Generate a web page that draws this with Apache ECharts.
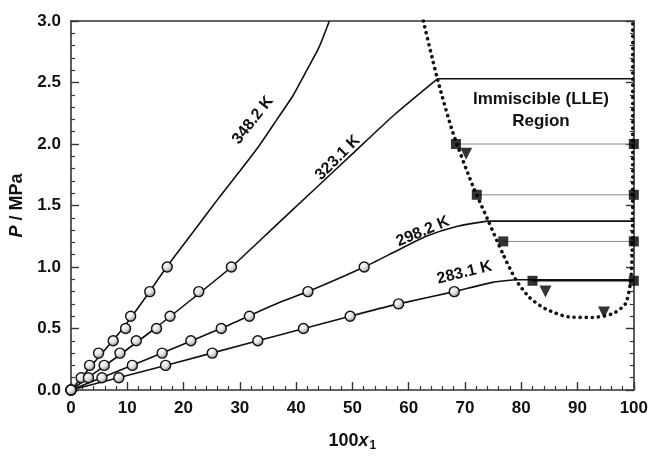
<!DOCTYPE html>
<html>
<head>
<meta charset="utf-8">
<title>P - 100x1</title>
<script src="https://cdn.jsdelivr.net/npm/echarts@6/dist/echarts.min.js"></script>
<style>
	html, body { margin: 0; background: #fff; }
	#main { width: 651px; height: 457px; }
</style>
</head>
<body>
<div id="main"></div>
<script>
// measured points (circles), 100x1 vs P/MPa
var x348 = [0, 1.8, 3.3, 4.9, 7.5, 9.7, 10.6, 14.0, 17.1];
var p348 = [0, 0.1, 0.2, 0.3, 0.4, 0.5, 0.6, 0.8, 1.0];
var x323 = [0, 3.1, 5.9, 8.7, 11.6, 15.2, 17.6, 22.7, 28.5];
var p323 = [0, 0.1, 0.2, 0.3, 0.4, 0.5, 0.6, 0.8, 1.0];
var x298 = [0, 5.5, 10.9, 16.2, 21.3, 26.7, 31.7, 42.1, 52.1];
var p298 = [0, 0.1, 0.2, 0.3, 0.4, 0.5, 0.6, 0.8, 1.0];
var x283 = [0, 8.5, 16.8, 25.1, 33.2, 41.3, 49.6, 58.2, 68.1];
var p283 = [0, 0.1, 0.2, 0.3, 0.4, 0.5, 0.6, 0.7, 0.8];

// model curves
var c348 = [[0, 0], [4.6, 0.25], [9.2, 0.5], [13.2, 0.75], [17.0, 1.0], [21.8, 1.29], [26.4, 1.57], [30.0, 1.78],
	[33.5, 1.99], [36.6, 2.2], [39.4, 2.39], [41.9, 2.6], [44.1, 2.79], [45.9, 3.0]];
var c323 = [[0, 0], [7.6, 0.25], [14.9, 0.5], [21.8, 0.75], [28.5, 1.0], [36.0, 1.32], [43.0, 1.62], [50.0, 1.92],
	[57.5, 2.24], [65.1, 2.53]];
var c298 = [[0, 0], [13.5, 0.25], [26.6, 0.5], [36.4, 0.7], [42.1, 0.8], [52.1, 1.0], [57.8, 1.13], [63.1, 1.25],
	[68.5, 1.33], [73.9, 1.373]];
var c283 = [[0, 0], [16.8, 0.2], [33.2, 0.4], [49.6, 0.6], [58.2, 0.7], [68.1, 0.8], [74.9, 0.875], [79.0, 0.896]];

// three-phase lines (solid, to the right edge)
var h323 = [[65.1, 2.53], [100, 2.53]];
var h298 = [[73.9, 1.373], [100, 1.373]];
var h283 = [[79.0, 0.896], [100, 0.896]];

// LLE boundary (dotted)
var lleX = [62.6, 65.1, 67.8, 71.3, 74.0, 76.7, 79.0, 81.4, 84.3, 88.5, 92.6, 96.2, 98.5, 99.4, 99.7, 99.8, 99.8];
var lleP = [3.0, 2.53, 2.1, 1.67, 1.39, 1.11, 0.90, 0.755, 0.66, 0.594, 0.59, 0.62, 0.70, 0.875, 1.1, 1.6, 3.0];

// tie lines (squares at both ends)
var tieP = [2.0, 1.587, 1.208, 0.888];
var tieL = [68.4, 72.1, 76.8, 82.0];
var tieR = [100, 100, 100, 100];

// triangles
var triX = [70.2, 84.3, 94.7];
var triP = [1.92, 0.80, 0.63];

var yTicks = ['0.0', '0.5', '1.0', '1.5', '2.0', '2.5', '3.0'];

var curveNames = ['348.2 K', '323.1 K', '298.2 K', '283.1 K'];

function zip(a, b) {
	return a.map(function (v, i) { return [v, b[i]]; });
}

var FONT = '"Liberation Sans", Arial, Helvetica, sans-serif';
var chart = echarts.init(document.getElementById('main'));

var ballColor = new echarts.graphic.RadialGradient(0.35, 0.3, 0.75, [
	{ offset: 0, color: '#ffffff' },
	{ offset: 0.5, color: '#e0e0e0' },
	{ offset: 1, color: '#7a7a7a' }
]);

function curve(d, sm) {
	return {
		type: 'line', data: d, smooth: sm, showSymbol: false, silent: true,
		lineStyle: { color: '#111', width: 1.6 }, z: 3
	};
}
function balls(x, p) {
	return {
		type: 'scatter', data: zip(x, p), symbol: 'circle', symbolSize: 10,
		itemStyle: { color: ballColor, borderColor: '#111', borderWidth: 1.4, opacity: 1 }, z: 5
	};
}

var tieSeries = [];
tieP.forEach(function (p, i) {
	var solid = (i === tieP.length - 1);
	tieSeries.push({
		type: 'line', data: [[tieL[i], p], [tieR[i], p]], showSymbol: false, silent: true,
		lineStyle: { color: solid ? '#111' : '#8a8a8a', width: solid ? 1.6 : 1 }, z: 2
	});
});

var squares = [];
tieP.forEach(function (p, i) {
	squares.push([tieL[i], p]);
	squares.push([tieR[i], p]);
});

var option = {
	animation: false,
	grid: { left: 71, right: 15, top: 21, bottom: 61, show: false },
	xAxis: [{
		type: 'value', min: 0, max: 100, interval: 10,
		name: '{n|100}{i|x}{s|1}', nameLocation: 'middle', nameGap: 40,
		nameTextStyle: {
			rich: {
				n: { fontFamily: FONT, fontWeight: 'bold', fontSize: 18, color: '#111' },
				i: { fontFamily: FONT, fontWeight: 'bold', fontStyle: 'italic', fontSize: 18, color: '#111' },
				s: { fontFamily: FONT, fontWeight: 'bold', fontSize: 12, color: '#111', padding: [10, 0, 0, 1] }
			}
		},
		axisLine: { onZero: false, lineStyle: { color: '#333', width: 1.6 } },
		axisTick: { inside: true, length: 8, lineStyle: { color: '#333', width: 1.4 } },
		minorTick: { show: true, splitNumber: 5, length: 4, lineStyle: { color: '#333', width: 1.2 } },
		axisLabel: { margin: 10, fontFamily: FONT, fontWeight: 'bold', fontSize: 17, color: '#111' },
		splitLine: { show: false }
	}, {
		type: 'value', min: 0, max: 100, position: 'top',
		axisLine: { show: true, onZero: false, lineStyle: { color: '#333', width: 1.6 } },
		axisTick: { show: false }, axisLabel: { show: false }, splitLine: { show: false }
	}],
	yAxis: [{
		type: 'value', min: 0, max: 3, interval: 0.5,
		name: '{i|P}{n| / MPa}', nameLocation: 'middle', nameGap: 44, nameRotate: 90,
		nameTextStyle: {
			rich: {
				n: { fontFamily: FONT, fontWeight: 'bold', fontSize: 18, color: '#111' },
				i: { fontFamily: FONT, fontWeight: 'bold', fontStyle: 'italic', fontSize: 18, color: '#111' }
			}
		},
		axisLine: { show: true, onZero: false, lineStyle: { color: '#333', width: 1.6 } },
		axisTick: { inside: true, length: 8, lineStyle: { color: '#333', width: 1.4 } },
		minorTick: { show: true, splitNumber: 5, length: 4, lineStyle: { color: '#333', width: 1.2 } },
		axisLabel: {
			margin: 10, fontFamily: FONT, fontWeight: 'bold', fontSize: 17, color: '#111',
			formatter: function (v) { return yTicks[Math.round(v / 0.5)]; }
		},
		splitLine: { show: false }
	}, {
		type: 'value', min: 0, max: 3, interval: 0.5, position: 'right',
		axisLine: { show: true, onZero: false, lineStyle: { color: '#333', width: 1.6 } },
		axisTick: { inside: true, length: 8, lineStyle: { color: '#333', width: 1.4 } },
		minorTick: { show: true, splitNumber: 5, length: 4, lineStyle: { color: '#333', width: 1.2 } },
		axisLabel: { show: false }, splitLine: { show: false }
	}],
	series: [
		curve(c348, 0.2), curve(c323, 0.2), curve(c298, 0.2), curve(c283, 0.2),
		curve(h323, false), curve(h298, false), curve(h283, false)
	].concat(tieSeries).concat([
		{
			type: 'line', data: zip(lleX, lleP), smooth: 0.25, showSymbol: false, silent: true,
			lineStyle: { color: '#111', width: 3.6, type: [0.1, 6], cap: 'round' }, z: 4
		},
		balls(x348, p348), balls(x323, p323), balls(x298, p298), balls(x283, p283),
		{
			type: 'scatter', data: squares, symbol: 'rect', symbolSize: 10, clip: false,
			itemStyle: { color: '#000' }, z: 6
		},
		{
			type: 'scatter', data: zip(triX, triP), symbol: 'triangle', symbolRotate: 180, symbolSize: 12,
			itemStyle: { color: '#000' }, z: 6
		}
	])
};
chart.setOption(option);

// curve labels and region text
var labelAt = [[32.3, 2.194, 52], [47.4, 1.888, 45], [62.5, 1.288, 23], [69.9, 0.954, 14]];
var graphics = [];
labelAt.forEach(function (l, i) {
	var px = chart.convertToPixel({ xAxisIndex: 0, yAxisIndex: 0 }, [l[0], l[1]]);
	graphics.push({
		type: 'text', x: px[0], y: px[1], rotation: l[2] * Math.PI / 180, z: 10,
		style: {
			text: curveNames[i], fill: '#111', font: 'bold 16px ' + FONT,
			align: 'center', verticalAlign: 'middle', textAlign: 'center', textVerticalAlign: 'middle'
		}
	});
});
var rp = chart.convertToPixel({ xAxisIndex: 0, yAxisIndex: 0 }, [83.5, 2.27]);
graphics.push({
	type: 'text', x: rp[0], y: rp[1], z: 10,
	style: {
		text: 'Immiscible (LLE)\nRegion', fill: '#111', font: 'bold 17px ' + FONT, lineHeight: 22,
		align: 'center', verticalAlign: 'middle', textAlign: 'center', textVerticalAlign: 'middle'
	}
});
chart.setOption({ graphic: graphics });
</script>
</body>
</html>
